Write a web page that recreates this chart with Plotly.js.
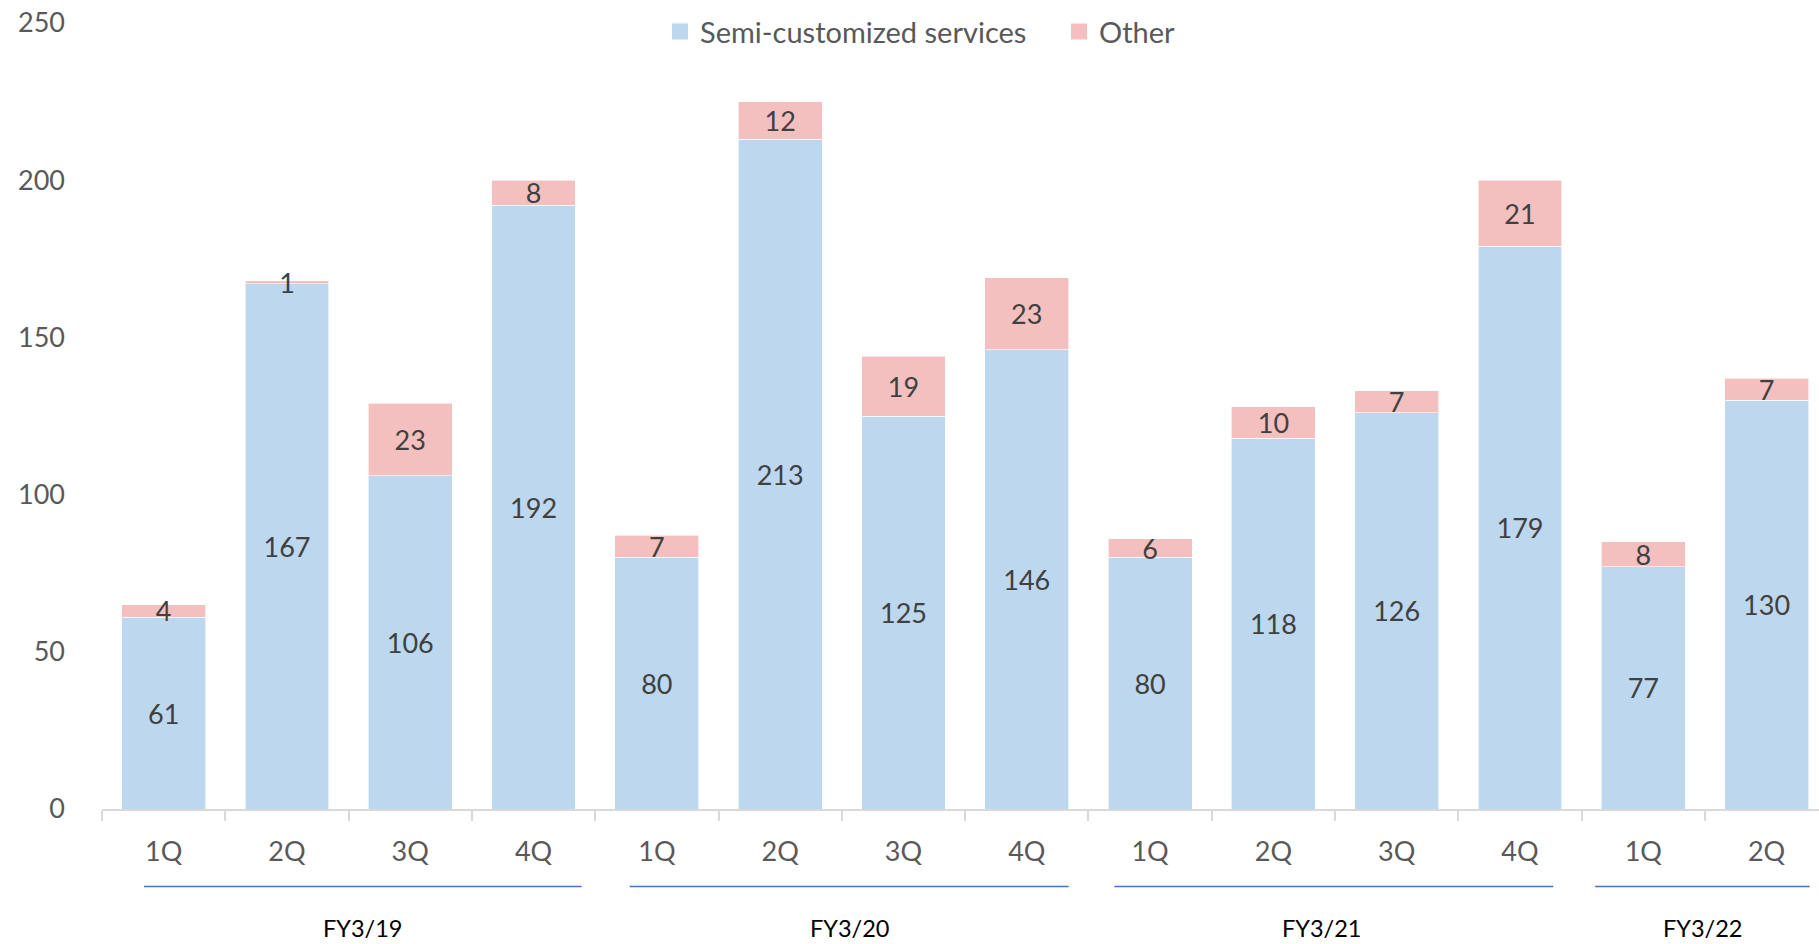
<!DOCTYPE html>
<html>
<head>
<meta charset="utf-8">
<script src="https://cdn.plot.ly/plotly-3.0.1.min.js"></script>
<style>html,body{margin:0;padding:0;background:#fff;}#chart{width:1819px;height:944px;}</style>
</head>
<body>
<div id="chart"></div>
<script>
// ---- data ----
const quarters = ['1Q','2Q','3Q','4Q','1Q','2Q','3Q','4Q','1Q','2Q','3Q','4Q','1Q','2Q'];
const fiscalYears = ['FY3/19','FY3/20','FY3/21','FY3/22'];
const quartersPerYear = [4, 4, 4, 2];
const semiCustomized = [61, 167, 106, 192, 80, 213, 125, 146, 80, 118, 126, 179, 77, 130];
const other = [4, 1, 23, 8, 7, 12, 19, 23, 6, 10, 7, 21, 8, 7];
const seriesNames = ['Semi-customized services', 'Other'];
const yTicks = [0, 50, 100, 150, 200, 250];

// ---- layout helpers (styling / positions only) ----
const FONT = 'Lato, "Open Sans", sans-serif';
const COLORS = ['#BDD7EE', '#F4C0BF'];
const idx = quarters.map((_, i) => i);
const boundaries = quarters.map((_, i) => i - 0.5).concat([quarters.length - 0.5]);
const lineInsets = [[0.34, 0.11], [0.28, 0.16], [0.21, 0.23], [0.11, 0.15]];
const labelShift = [0, 0, -0.1, 0];

const shapes = [];
const annotations = [];
let start = 0;
fiscalYears.forEach((fy, g) => {
  const n = quartersPerYear[g];
  const x0 = start - 0.5 + lineInsets[g][0];
  const x1 = start + n - 0.5 - lineInsets[g][1];
  shapes.push({type: 'line', xref: 'x', yref: 'paper', x0: x0, x1: x1, y0: -0.0985, y1: -0.0985,
               line: {color: '#4472C4', width: 1.5}});
  annotations.push({xref: 'x', yref: 'paper', x: (x0 + x1) / 2 + labelShift[g], y: -0.152, text: fy, showarrow: false,
                    xanchor: 'center', yanchor: 'middle', font: {family: FONT, size: 23.5, color: '#000000'}});
  start += n;
});

const series = [semiCustomized, other];
const traces = [];
series.forEach((vals, s) => {
  traces.push({type: 'bar', name: seriesNames[s], x: idx, y: vals, text: vals.map(String),
    textposition: 'inside', insidetextanchor: 'middle', textangle: 0, cliponaxis: false,
    textfont: {family: FONT, size: 27, color: '#404040'}, showlegend: false, legendgroup: 'g' + s,
    marker: {color: COLORS[s], line: {color: '#ffffff', width: 0.6}}, hoverinfo: 'y+name'});
});
// legend entries with larger square swatches
series.forEach((vals, s) => {
  traces.push({type: 'scatter', mode: 'markers', name: seriesNames[s], x: [null], y: [null],
    legendgroup: 'g' + s, showlegend: true, hoverinfo: 'skip',
    marker: {symbol: 'square', size: 19, color: COLORS[s]}});
});

const layout = {
  width: 1819, height: 944,
  margin: {l: 102, r: 0, t: 23, b: 135, pad: 0},
  paper_bgcolor: '#ffffff', plot_bgcolor: '#ffffff',
  barmode: 'stack', bargap: 0.32,
  showlegend: true,
  legend: {orientation: 'h', x: 0.325, xanchor: 'left', y: 0.989, yanchor: 'middle',
           entrywidth: 354, entrywidthmode: 'pixels',
           font: {family: FONT, size: 29, color: '#595959'}, traceorder: 'normal',
           itemclick: false, itemdoubleclick: false},
  uniformtext: {mode: 'show', minsize: 27},
  font: {family: FONT},
  xaxis: {
    type: 'linear', range: [-0.5, 13.425], fixedrange: true,
    tickmode: 'array', tickvals: idx, ticktext: quarters, ticks: '',
    tickfont: {family: FONT, size: 27, color: '#595959'}, ticklabelstandoff: 18,
    showgrid: false, zeroline: false,
    showline: true, linecolor: '#D9D9D9', linewidth: 2,
    minor: {tickmode: 'array', tickvals: boundaries, ticks: 'outside', ticklen: 10, tickwidth: 2,
            tickcolor: '#D9D9D9', showgrid: false}
  },
  yaxis: {
    range: [0, 250], fixedrange: true, tickmode: 'array', tickvals: yTicks,
    showgrid: false, zeroline: false, showline: false, ticks: '',
    tickfont: {family: FONT, size: 27, color: '#595959'}, ticklabelstandoff: 36
  },
  shapes: shapes,
  annotations: annotations
};

Plotly.newPlot('chart', traces, layout, {displayModeBar: false, responsive: false, staticPlot: false});
</script>
</body>
</html>
